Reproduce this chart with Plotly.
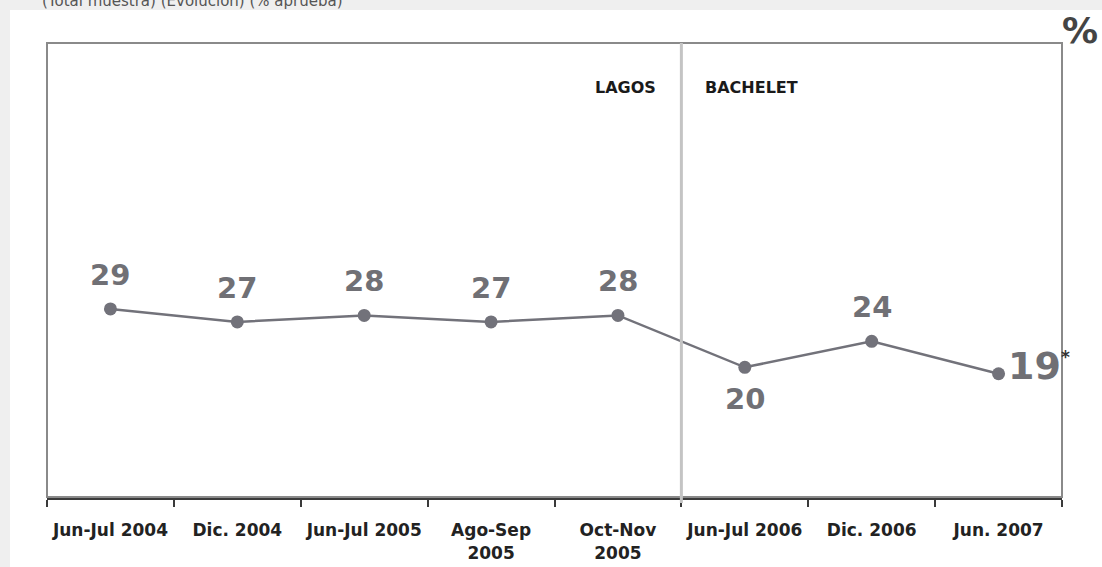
import plotly.graph_objects as go

categories = ["Jun-Jul 2004", "Dic. 2004", "Jun-Jul 2005", "Ago-Sep 2005", "Oct-Nov 2005",
              "Jun-Jul 2006", "Dic. 2006", "Jun. 2007"]
tick_labels = ["Jun-Jul 2004", "Dic. 2004", "Jun-Jul 2005", "Ago-Sep<br>2005", "Oct-Nov<br>2005",
               "Jun-Jul 2006", "Dic. 2006", "Jun. 2007"]
values = [29, 27, 28, 27, 28, 20, 24, 19]
periods = ["LAGOS", "BACHELET"]

W, H = 1102, 567
L, R, T, B = 47, 40, 43, 70
pw, ph = W - L - R, H - T - B

def px_x(p):
    return (p - L) / pw

def px_y(p):
    return (H - B - p) / ph

fig = go.Figure()
fig.add_trace(go.Scatter(
    x=categories, y=values, mode="lines+markers",
    line=dict(color="#72727a", width=2.5),
    marker=dict(color="#72727a", size=13),
    hoverinfo="skip", showlegend=False,
))

lbl_font = dict(family="DejaVu Sans", size=29, color="#707075", weight="bold")
for i, (c, v) in enumerate(zip(categories, values)):
    if i == len(values) - 1:
        fig.add_annotation(x=c, y=v, showarrow=False, xanchor="left", xshift=7, yshift=8,
                           text=f"{v}<sup><span style='font-size:17px;color:#333'>*</span></sup>",
                           font=dict(family="DejaVu Sans", size=38, color="#707075", weight="bold"))
    elif i == 5:
        fig.add_annotation(x=c, y=v, text=str(v), showarrow=False, yshift=-32, font=lbl_font)
    else:
        fig.add_annotation(x=c, y=v, text=str(v), showarrow=False, yshift=34, font=lbl_font)

# white panel
fig.add_shape(type="rect", xref="paper", yref="paper", layer="below",
              x0=px_x(10), x1=px_x(1110), y0=px_y(580), y1=px_y(10),
              fillcolor="white", line=dict(width=0))
# frame (top, left, right)
fig.add_shape(type="rect", xref="paper", yref="paper", layer="above",
              x0=0, x1=1, y0=0, y1=1, line=dict(color="#8a8a8a", width=2))
# divider
fig.add_shape(type="line", xref="x", yref="paper", x0=4.5, x1=4.5, y0=px_y(503), y1=1,
              line=dict(color="#c4c4c4", width=3))

period_font = dict(family="DejaVu Sans", size=16, color="#1a1a1a", weight="bold")
fig.add_annotation(xref="paper", yref="paper", x=px_x(593), y=px_y(76), xanchor="left",
                   text=periods[0], showarrow=False, font=period_font)
fig.add_annotation(xref="paper", yref="paper", x=px_x(703), y=px_y(76), xanchor="left",
                   text=periods[1], showarrow=False, font=period_font)
fig.add_annotation(xref="paper", yref="paper", x=px_x(1100), y=px_y(53), xanchor="right",
                   yanchor="bottom", text="%", showarrow=False,
                   font=dict(family="DejaVu Sans", size=36, color="#444", weight="bold"))
fig.add_annotation(xref="paper", yref="paper", x=px_x(40), y=px_y(-10), xanchor="left",
                   text="(Total muestra) (Evolución) (% aprueba)", showarrow=False,
                   font=dict(family="DejaVu Sans", size=15, color="#555"))

fig.update_layout(
    width=W, height=H, margin=dict(l=L, r=R, t=T, b=B, autoexpand=False),
    paper_bgcolor="#efefef", plot_bgcolor="rgba(0,0,0,0)",
    xaxis=dict(type="category", tickmode="array", tickvals=categories, ticktext=tick_labels,
               range=[-0.5, 7.5], tickson="boundaries", ticks="outside", ticklen=7,
               tickwidth=2, tickcolor="#3a3a3a", showline=True, linecolor="#3a3a3a",
               linewidth=3, showgrid=False, zeroline=False, ticklabelstandoff=16,
               tickfont=dict(family="DejaVu Sans", size=17, color="#222", weight="bold")),
    yaxis=dict(range=[0, 70], visible=False, showgrid=False, zeroline=False),
)

fig.write_html("out.html", config={"displayModeBar": False},
               post_script="document.body.style.margin='0';document.body.style.overflow='hidden';"
                           "document.body.style.background='#efefef';")
